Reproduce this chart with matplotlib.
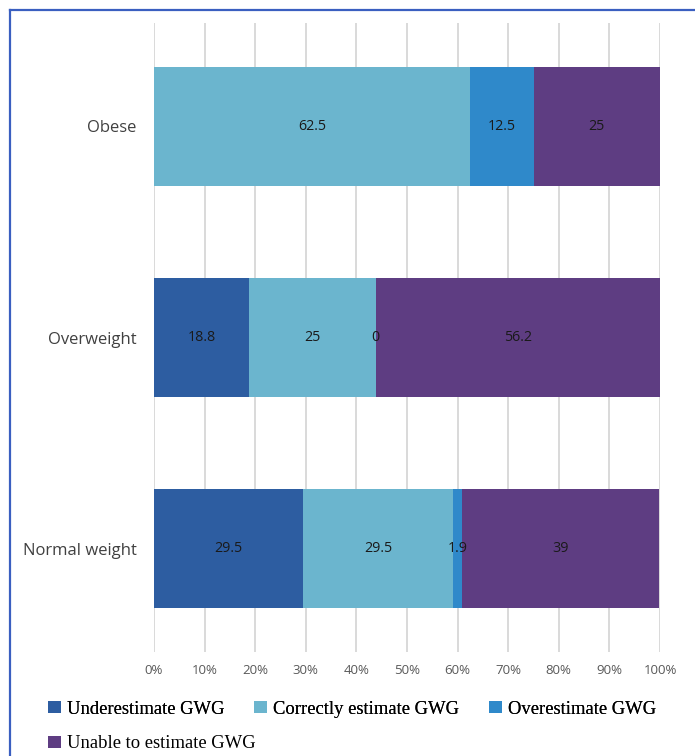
import numpy as np
import matplotlib.pyplot as plt
from matplotlib.lines import Line2D

# categories, bottom to top
categorias = ['Normal weight', 'Overweight', 'Obese']
series = ['Underestimate GWG', 'Correctly estimate GWG', 'Overestimate GWG', 'Unable to estimate GWG']
under = [29.5, 18.8, 0]
correct = [29.5, 25, 62.5]
over = [1.9, 0, 12.5]
unable = [39, 56.2, 25]
# Obese has no label for the underestimate segment
mostrar = [[True, True, False], [True, True, True], [True, True, True], [True, True, True]]
cores = ['#2D5DA1', '#6BB5CE', '#2F89CA', '#5E3D82']
ticks_pct = [0, 10, 20, 30, 40, 50, 60, 70, 80, 90, 100]

fig = plt.figure(figsize=(6.95, 7.56), dpi=100)
ax = fig.add_axes([154 / 695, 1 - 652 / 756, 506 / 695, 629 / 756])

y = np.arange(len(categorias))
esquerda = np.zeros(len(categorias))
barras = []
for i, vals in enumerate([under, correct, over, unable]):
    b = ax.barh(y, vals, left=esquerda, height=0.565, color=cores[i], label=series[i], zorder=2)
    rot = [f'{v:g}' if m else '' for v, m in zip(vals, mostrar[i])]
    ax.bar_label(b, labels=rot, label_type='center', fontsize=10.3, color='#1a1a1a',
                 family='Open Sans')
    barras.append(b)
    esquerda += np.array(vals)

ax.set_xlim(0, 100)
ax.set_ylim(-0.49, 2.49)
ax.set_xticks(ticks_pct)
ax.set_xticklabels([f'{t}%' for t in ticks_pct], fontsize=9.5, color='#595959', family='Open Sans')
ax.set_yticks(y)
ax.set_yticklabels(categorias, fontsize=12, color='#404040', family='Open Sans')
ax.tick_params(length=0, axis='x', pad=9)
ax.tick_params(length=0, axis='y', pad=12.5)
ax.grid(axis='x', color='#D9D9D9', linewidth=1.4, zorder=0)
for s in ax.spines.values():
    s.set_visible(False)

# legend, flowing like Excel: three on first line, one on second
fonte_leg = {'family': 'Liberation Serif', 'size': 13.4}
leg1 = fig.legend(barras[:3], series[:3], loc='center left', bbox_to_anchor=(48 / 695, 1 - 709 / 756),
                  ncol=3, frameon=False, prop=fonte_leg,
                  handlelength=0.7, handleheight=0.6, handletextpad=0.32, columnspacing=1.6,
                  borderpad=0, borderaxespad=0)
leg2 = fig.legend(barras[3:], series[3:], loc='center left', bbox_to_anchor=(48 / 695, 1 - 744 / 756),
                  ncol=1, frameon=False, prop=fonte_leg,
                  handlelength=0.7, handleheight=0.6, handletextpad=0.32,
                  borderpad=0, borderaxespad=0)
fig.add_artist(leg1)

# blue frame (top and left visible)
fig.add_artist(Line2D([10 / 695, 1.0], [1 - 10 / 756, 1 - 10 / 756], color='#3A5FC0', linewidth=1.6,
                      transform=fig.transFigure))
fig.add_artist(Line2D([10 / 695, 10 / 695], [0.0, 1 - 10 / 756], color='#3A5FC0', linewidth=1.6,
                      transform=fig.transFigure))

fig.savefig('out.png', dpi=100)
